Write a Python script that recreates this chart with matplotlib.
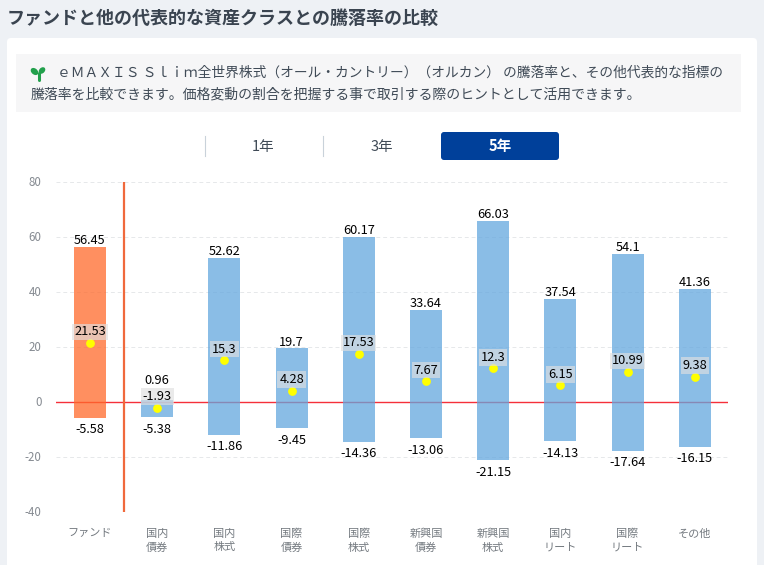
import matplotlib
matplotlib.use('Agg')
import matplotlib.pyplot as plt
from matplotlib.patches import FancyBboxPatch, Rectangle, Ellipse
from matplotlib.transforms import ScaledTranslation

plt.rcParams['font.family'] = ['Noto Sans CJK JP', 'DejaVu Sans']

categories = ['ファンド', '国内\n債券', '国内\n株式', '国際\n債券', '国際\n株式',
              '新興国\n債券', '新興国\n株式', '国内\nリート', '国際\nリート', 'その他']
highs = [56.45, 0.96, 52.62, 19.7, 60.17, 33.64, 66.03, 37.54, 54.1, 41.36]
lows = [-5.58, -5.38, -11.86, -9.45, -14.36, -13.06, -21.15, -14.13, -17.64, -16.15]
avgs = [21.53, -1.93, 15.3, 4.28, 17.53, 7.67, 12.3, 6.15, 10.99, 9.38]
yticks = [80, 60, 40, 20, 0, -20, -40]

W, H = 764, 565
fig = plt.figure(figsize=(W / 100, H / 100), dpi=100, facecolor='#eef1f5')

# page furniture, in pixel coords
bg = fig.add_axes([0, 0, 1, 1])
bg.set_xlim(0, W)
bg.set_ylim(H, 0)
bg.axis('off')
bg.add_patch(FancyBboxPatch((7, 38), 750, 560, boxstyle='round,pad=0,rounding_size=4',
                            fc='white', ec='none'))
bg.add_patch(Rectangle((16, 54), 725, 58, fc='#f6f6f7', ec='none'))
bg.text(7, 18, 'ファンドと他の代表的な資産クラスとの騰落率の比較', fontsize=13,
        fontweight='bold', color='#3a4450', va='center')
text_c = '#3f4a56'
bg.text(57, 73, 'ｅＭＡＸＩＳ Ｓｌｉｍ全世界株式（オール・カントリー）（オルカン） の騰落率と、その他代表的な指標の',
        fontsize=9.89, color=text_c, va='center')
bg.text(31, 94, '騰落率を比較できます。価格変動の割合を把握する事で取引する際のヒントとして活用できます。',
        fontsize=10.03, color=text_c, va='center')
# sprout icon
bg.plot([38.5, 38.5], [73, 80], color='#22a04c', lw=2.2, solid_capstyle='round')
bg.add_patch(Ellipse((34.5, 71.5), 8.5, 6, angle=40, fc='#22a04c', ec='none'))
bg.add_patch(Ellipse((42, 70.5), 7.5, 5.5, angle=-45, fc='#22a04c', ec='none'))

# period tabs
for x in [204.5, 322.5]:
    bg.plot([x, x], [136, 156], color='#c9d2da', lw=0.8)
bg.text(263, 146.5, '1年', fontsize=10.5, color='#3f4a56', ha='center', va='center')
bg.text(382, 146.5, '3年', fontsize=10.5, color='#3f4a56', ha='center', va='center')
bg.add_patch(FancyBboxPatch((441, 132), 118, 28, boxstyle='round,pad=0,rounding_size=3',
                            fc='#00409a', ec='none'))
bg.text(500, 146, '5年', fontsize=10.5, fontweight='bold', color='white', ha='center', va='center')

# chart
ax = fig.add_axes([56.4 / W, 1 - 512.3 / H, 672 / W, 330 / H])
ax.patch.set_alpha(0)
ax.set_xlim(-0.5, 9.5)
ax.set_ylim(-40, 80)
for s in ax.spines.values():
    s.set_visible(False)
ax.set_yticks(yticks)
ax.set_yticklabels([str(v) for v in yticks], fontsize=8.3, color='#858a91')
ax.set_xticks(range(len(categories)))
ax.set_xticklabels(categories, fontsize=8, color='#747a80', linespacing=1.45)
ax.tick_params(length=0, axis='y', pad=10.5)
ax.tick_params(length=0, axis='x', pad=11.7)
ax.grid(axis='y', color='#e6e8ea', lw=0.7, ls=(0, (4, 3)))
ax.set_axisbelow(True)
# y labels sit a little above their gridlines
for lab in ax.get_yticklabels():
    lab.set_transform(lab.get_transform() + ScaledTranslation(0, 1.5 / 100, fig.dpi_scale_trans))

xs = list(range(len(categories)))
colors = ['#ff6a2b'] + ['#63a7de'] * 9
ax.axhline(0, color='#f5303a', lw=1, zorder=1.5)
ax.bar(xs, [h - l for h, l in zip(highs, lows)], bottom=lows, width=0.476, color=colors,
       alpha=0.75, zorder=2, linewidth=0)
ax.axvline(0.5, color='#f0693c', lw=1.6, zorder=3)
ax.scatter(xs, avgs, s=40, color='#ffff00', zorder=4, linewidths=0)

for x, h, l, a in zip(xs, highs, lows, avgs):
    # the top label moves up when it would sit on the average label
    up = 13.5 if h - a < 5 else 4.4
    ax.annotate(f'{h:g}', (x, h), xytext=(0, up), textcoords='offset points', ha='center',
                va='center', fontsize=9.2, color='black', zorder=6)
    ax.annotate(f'{l:g}', (x, l), xytext=(0, -8.6), textcoords='offset points', ha='center',
                va='center', fontsize=9.2, color='black', zorder=6)
    ax.annotate(f'{a:g}', (x, a), xytext=(0, 8), textcoords='offset points', ha='center',
                va='center', fontsize=9.2, color='black', zorder=6,
                bbox=dict(boxstyle='square,pad=0.14', fc='#e0e0e0', ec='none', alpha=0.65))

fig.savefig('out.png', dpi=100, facecolor=fig.get_facecolor())
